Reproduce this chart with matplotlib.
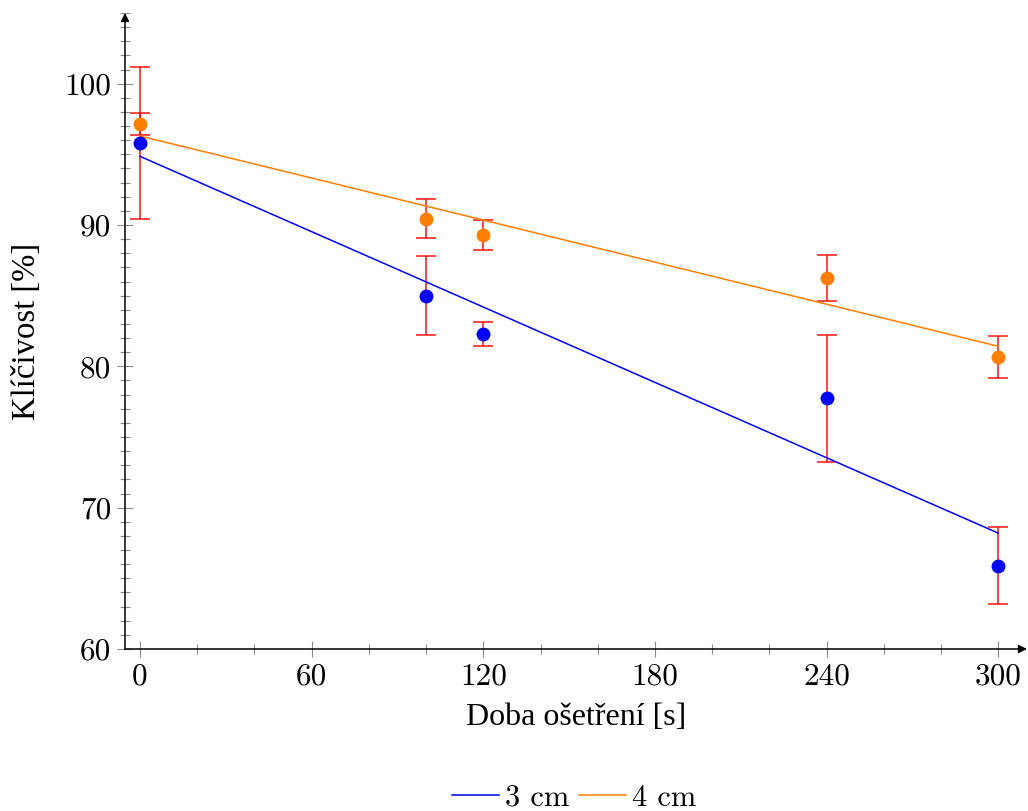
import matplotlib.pyplot as plt
import numpy as np
from matplotlib.ticker import MultipleLocator

# doba ošetření [s]
t = [0, 100, 120, 240, 300]

# klíčivost [%] a směrodatné odchylky
k3 = [95.8, 85.0, 82.3, 77.75, 65.9]
e3 = [5.4, 2.8, 0.85, 4.5, 2.7]
k4 = [97.15, 90.45, 89.3, 86.25, 80.65]
e4 = [0.8, 1.4, 1.07, 1.6, 1.5]

xticks = [0, 60, 120, 180, 240, 300]
yticks = [60, 70, 80, 90, 100]

blue = (0, 0, 1)
orange = (1, 0.5, 0)
red = (1, 0, 0)

fig = plt.figure(figsize=(10.28, 8.11), dpi=100)
ax = fig.add_axes([125 / 1028, 1 - 649 / 811, 902 / 1028, 636 / 811])
ax.set_xlim(-5.24, 310.0)
ax.set_ylim(60, 105.0)

for k, e, c in [(k3, e3, blue), (k4, e4, orange)]:
    ax.errorbar(t, k, yerr=e, fmt='none', ecolor=red, elinewidth=1.2,
                capsize=7, capthick=1.2, alpha=0.85, zorder=2)
    ax.plot(t, k, 'o', color=c, markersize=9, zorder=4)

# lineární regrese
lines = []
for k, c in [(k3, blue), (k4, orange)]:
    coef = np.polyfit(t, k, 1)
    xx = np.array([t[0], t[-1]])
    ln, = ax.plot(xx, np.poly1d(coef)(xx), color=c, lw=1.1, zorder=3)
    lines.append(ln)

for s in ax.spines.values():
    s.set_visible(False)
ax.annotate('', xy=(1.0, 0), xytext=(0, 0), xycoords='axes fraction',
            arrowprops=dict(arrowstyle='-|>', color='black', lw=1.1,
                            mutation_scale=12, shrinkA=0, shrinkB=0))
ax.annotate('', xy=(0, 1.0), xytext=(0, 0), xycoords='axes fraction',
            arrowprops=dict(arrowstyle='-|>', color='black', lw=1.1,
                            mutation_scale=12, shrinkA=0, shrinkB=0))

ax.set_xticks(xticks)
ax.set_yticks(yticks)
ax.xaxis.set_minor_locator(MultipleLocator(20))
ax.yaxis.set_minor_locator(MultipleLocator(1))
ax.tick_params(which='major', direction='inout', length=12, width=0.8,
               color='0.55', labelsize=22.5, pad=4)
ax.tick_params(which='minor', direction='inout', length=7, width=0.8,
               color='0.55')
for lab in ax.get_xticklabels() + ax.get_yticklabels():
    lab.set_family('cmr10')

ax.set_xlabel('Doba ošetření [s]', family='Liberation Serif', fontsize=23,
              labelpad=9)
ax.set_ylabel('Klíčivost [%]', family='Liberation Serif', fontsize=23.5,
              labelpad=16)

leg = fig.legend(lines, ['3 cm', '4 cm'], loc='center',
                 bbox_to_anchor=(574 / 1028, 1 - 798 / 811), ncol=2,
                 frameon=False, handlelength=1.55, handletextpad=0.2,
                 columnspacing=0.3, prop={'family': 'cmr10', 'size': 22})

fig.savefig('out.png', dpi=100)
